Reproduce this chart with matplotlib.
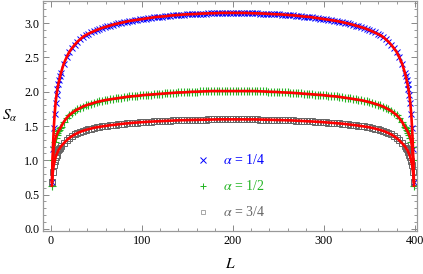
import matplotlib
matplotlib.use("Agg")
import matplotlib.pyplot as plt
from matplotlib.ticker import MultipleLocator

plt.rcParams.update({"font.family": ["Liberation Serif", "DejaVu Serif"], "mathtext.fontset": "stix"})

# subsystem sizes: 1..10, every 3 from 11 to 389, then 390..399
L = list(range(1, 11)) + list(range(11, 390, 3)) + list(range(390, 400))

s_quarter = [0.69, 1.17, 1.47, 1.68, 1.84, 1.95, 2.04, 2.11, 2.17, 2.23,
             2.28, 2.41, 2.50, 2.58, 2.635, 2.685, 2.73, 2.765, 2.80, 2.825,
             2.845, 2.865, 2.882, 2.90, 2.915, 2.93, 2.942, 2.953, 2.965, 2.977,
             2.988, 2.997, 3.006, 3.015, 3.024, 3.032, 3.038, 3.044, 3.05, 3.056,
             3.062, 3.068, 3.074, 3.08, 3.086, 3.091, 3.094, 3.097, 3.10, 3.106,
             3.111, 3.114, 3.117, 3.12, 3.123, 3.126, 3.129, 3.13, 3.131, 3.133,
             3.136, 3.139, 3.14, 3.141, 3.143, 3.145, 3.145, 3.147, 3.149, 3.15,
             3.15, 3.15, 3.15, 3.15,
             3.15, 3.15, 3.15, 3.15, 3.149, 3.147, 3.145, 3.145, 3.143, 3.141,
             3.14, 3.139, 3.136, 3.133, 3.131, 3.13, 3.129, 3.126, 3.123, 3.12,
             3.117, 3.114, 3.111, 3.106, 3.10, 3.097, 3.094, 3.091, 3.086, 3.08,
             3.074, 3.068, 3.062, 3.056, 3.05, 3.044, 3.038, 3.032, 3.024, 3.015,
             3.006, 2.997, 2.988, 2.977, 2.965, 2.953, 2.942, 2.93, 2.915, 2.90,
             2.882, 2.865, 2.845, 2.825, 2.80, 2.765, 2.73, 2.685, 2.635, 2.58,
             2.50, 2.41, 2.28,
             2.23, 2.17, 2.11, 2.04, 1.95, 1.84, 1.68, 1.47, 1.17, 0.69]

s_half = [0.63, 1.01, 1.19, 1.27, 1.325, 1.365, 1.395, 1.425, 1.445, 1.465,
          1.49, 1.56, 1.615, 1.66, 1.69, 1.72, 1.742, 1.765, 1.785, 1.80,
          1.814, 1.826, 1.838, 1.85, 1.859, 1.868, 1.877, 1.884, 1.89, 1.896,
          1.902, 1.908, 1.914, 1.92, 1.926, 1.931, 1.934, 1.937, 1.94, 1.946,
          1.951, 1.954, 1.957, 1.96, 1.963, 1.966, 1.969, 1.972, 1.975, 1.978,
          1.981, 1.984, 1.987, 1.99, 1.99, 1.991, 1.994, 1.997, 2.00, 2.00,
          2.001, 2.004, 2.005, 2.005, 2.008, 2.01, 2.01, 2.01, 2.01, 2.01,
          2.01, 2.01, 2.01, 2.01,
          2.01, 2.01, 2.01, 2.01, 2.01, 2.01, 2.01, 2.01, 2.008, 2.005,
          2.005, 2.004, 2.001, 2.00, 2.00, 1.997, 1.994, 1.991, 1.99, 1.99,
          1.987, 1.984, 1.981, 1.978, 1.975, 1.972, 1.969, 1.966, 1.963, 1.96,
          1.957, 1.954, 1.951, 1.946, 1.94, 1.937, 1.934, 1.931, 1.926, 1.92,
          1.914, 1.908, 1.902, 1.896, 1.89, 1.884, 1.877, 1.868, 1.859, 1.85,
          1.838, 1.826, 1.814, 1.80, 1.785, 1.765, 1.742, 1.72, 1.69, 1.66,
          1.615, 1.56, 1.49,
          1.465, 1.445, 1.425, 1.395, 1.365, 1.325, 1.27, 1.19, 1.01, 0.63]

s_3quarter = [0.69, 0.83, 0.93, 0.99, 1.045, 1.085, 1.115, 1.145, 1.165, 1.185,
              1.205, 1.25, 1.29, 1.325, 1.353, 1.377, 1.398, 1.415, 1.43, 1.442,
              1.454, 1.464, 1.473, 1.482, 1.488, 1.494, 1.50, 1.506, 1.512, 1.516,
              1.52, 1.526, 1.531, 1.535, 1.539, 1.543, 1.546, 1.549, 1.551, 1.554,
              1.557, 1.56, 1.563, 1.565, 1.567, 1.569, 1.571, 1.573, 1.575, 1.577,
              1.58, 1.581, 1.583, 1.584, 1.585, 1.587, 1.588, 1.589, 1.59, 1.591,
              1.592, 1.593, 1.594, 1.595, 1.596, 1.597, 1.597, 1.597, 1.598, 1.598,
              1.598, 1.598, 1.598, 1.598,
              1.598, 1.598, 1.598, 1.598, 1.598, 1.597, 1.597, 1.597, 1.596, 1.595,
              1.594, 1.593, 1.592, 1.591, 1.59, 1.589, 1.588, 1.587, 1.585, 1.584,
              1.583, 1.581, 1.58, 1.577, 1.575, 1.573, 1.571, 1.569, 1.567, 1.565,
              1.563, 1.56, 1.557, 1.554, 1.551, 1.549, 1.546, 1.543, 1.539, 1.535,
              1.531, 1.526, 1.52, 1.516, 1.512, 1.506, 1.50, 1.494, 1.488, 1.482,
              1.473, 1.464, 1.454, 1.442, 1.43, 1.415, 1.398, 1.377, 1.353, 1.325,
              1.29, 1.25, 1.205,
              1.185, 1.165, 1.145, 1.115, 1.085, 1.045, 0.99, 0.93, 0.83, 0.69]

labels = [r"$\alpha$ = 1/4", r"$\alpha$ = 1/2", r"$\alpha$ = 3/4"]
colors = ["#0000FF", "#22B422", "#666666"]
markers = ["x", "+", "s"]

series = [s_quarter, s_half, s_3quarter]
for s in series:
    assert len(s) == len(L), (len(s), len(L))

fig = plt.figure(figsize=(4.23, 2.74), dpi=100)
ax = fig.add_axes([0.1024, 0.157, 0.8826, 0.841])

for s, c, mk in zip(series, colors, markers):
    if mk == "s":
        ax.plot(L, s, ls="none", marker=mk, ms=4.2, mfc="none", mec=c, mew=0.7)
    elif mk == "x":
        ax.plot(L, s, ls="none", marker=mk, ms=5.0, mec=c, mew=0.7)
    else:
        ax.plot(L, s, ls="none", marker=mk, ms=5.2, mec=c, mew=0.8)
for s in series:
    ax.plot(L, s, color="#FF0000", lw=1.9, zorder=5)

# legend, drawn by hand like the Mathematica one
leg_y = [0.306, 0.195, 0.084]
for lab, c, mk, yy in zip(labels, colors, markers, leg_y):
    if mk == "s":
        ax.plot([0.428], [yy], transform=ax.transAxes, marker=mk, ms=3.5, mfc="none", mec="#999999", mew=0.6)
    else:
        ax.plot([0.428], [yy], transform=ax.transAxes, marker=mk, ms=4, mec=c, mew=0.7)
    ax.text(0.482, yy, lab, transform=ax.transAxes, color=c, fontsize=10, va="center", ha="left")

ax.set_xlim(-8.5, 402)
ax.set_ylim(-0.03, 3.33)
ax.xaxis.set_major_locator(MultipleLocator(100))
ax.xaxis.set_minor_locator(MultipleLocator(20))
ax.yaxis.set_major_locator(MultipleLocator(0.5))
ax.yaxis.set_minor_locator(MultipleLocator(0.1))
ax.yaxis.set_major_formatter(matplotlib.ticker.FormatStrFormatter("%.1f"))
ax.tick_params(which="both", direction="in", top=True, right=True, color="#888888", labelsize=8.7, pad=3)
ax.tick_params(which="major", length=4, width=0.7)
ax.tick_params(which="minor", length=2, width=0.6)
for sp in ax.spines.values():
    sp.set_color("#999999"); sp.set_linewidth(0.9)

ax.set_xlabel(r"$L$", fontsize=11, labelpad=7)
ax.set_ylabel(r"$S_\alpha$", fontsize=11, rotation=0, labelpad=10, va="center")

fig.savefig("out.png", dpi=100)
